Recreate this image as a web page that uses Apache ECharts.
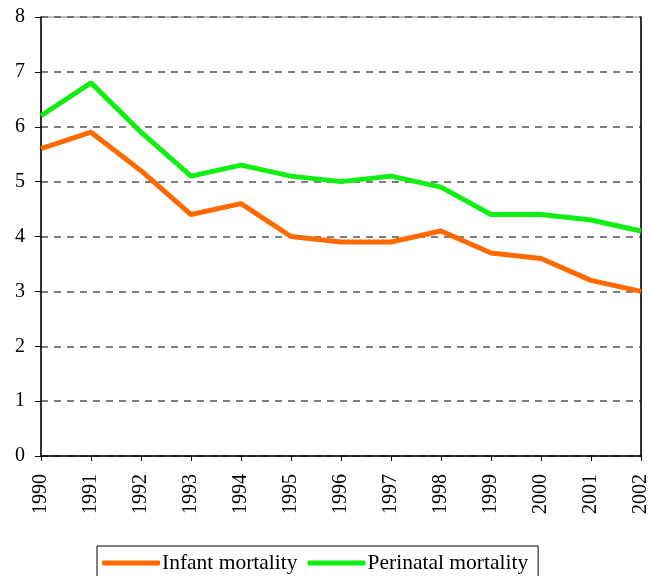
<!DOCTYPE html>
<html>
<head>
<meta charset="utf-8">
<script src="https://cdn.jsdelivr.net/npm/echarts@6/dist/echarts.min.js"></script>
<style>
  html, body { margin: 0; padding: 0; background: #fff; }
  #chart { width: 648px; height: 576px; }
</style>
</head>
<body>
<div id="chart"></div>
<script>
// 年份
var years = ['1990', '1991', '1992', '1993', '1994', '1995', '1996',
             '1997', '1998', '1999', '2000', '2001', '2002'];
// 婴儿死亡率
var infantMortality = [5.6, 5.9, 5.2, 4.4, 4.6, 4.0, 3.9, 3.9, 4.1, 3.7, 3.6, 3.2, 3.0];
// 围产期死亡率
var perinatalMortality = [6.2, 6.8, 5.9, 5.1, 5.3, 5.1, 5.0, 5.1, 4.9, 4.4, 4.4, 4.3, 4.1];

var font = '"Liberation Serif", "Times New Roman", serif';

var myChart = echarts.init(document.getElementById('chart'));
myChart.setOption({
    animation: false,
    textStyle: { fontFamily: font, color: '#000' },
    grid: { //绘图区
        left: 41,
        right: 7,
        top: 17,
        bottom: 120,
        outerBoundsMode: 'none',
        show: true,
        borderColor: '#888',
        borderWidth: 1
    },
    legend: {
        bottom: -8,
        left: 97,
        padding: [6, 10, 10, 5],
        itemGap: 10,
        borderColor: '#000',
        borderWidth: 1,
        itemWidth: 58,
        itemHeight: 5,
        icon: 'roundRect',
        textStyle: { fontFamily: font, fontSize: 21.5, color: '#000', padding: [0, 0, 0, -3] },
        data: ['Infant mortality', 'Perinatal mortality']
    },
    xAxis: {
        type: 'category',
        data: years,
        boundaryGap: false,
        axisLine: { lineStyle: { color: '#000', width: 1.5 } },
        axisTick: { show: true, alignWithLabel: true, length: 5, lineStyle: { color: '#000' } },
        axisLabel: { rotate: 90, fontSize: 20, fontFamily: font, color: '#000', margin: 18 },
        splitLine: { show: false }
    },
    yAxis: [{
        type: 'value',
        min: 0,
        max: 8,
        interval: 1,
        axisLine: { show: true, lineStyle: { color: '#000', width: 1.5 } },
        axisTick: { show: true, length: 6, lineStyle: { color: '#000' } },
        axisLabel: { fontSize: 20, fontFamily: font, color: '#000', margin: 16 },
        splitLine: { lineStyle: { color: '#555', type: [7, 6], width: 1.5 } }
    }, {
        type: 'value',
        position: 'right',
        min: 0,
        max: 8,
        interval: 1,
        axisLine: { show: true, lineStyle: { color: '#000', width: 1.5 } },
        axisTick: { show: false },
        axisLabel: { show: false },
        splitLine: { show: false }
    }],
    series: [{
        name: 'Infant mortality',
        type: 'line',
        data: infantMortality,
        symbol: 'none',
        color: '#ff6a00',
        lineStyle: { width: 5, color: '#ff6a00' }
    }, {
        name: 'Perinatal mortality',
        type: 'line',
        data: perinatalMortality,
        symbol: 'none',
        color: '#11ee11',
        lineStyle: { width: 5, color: '#11ee11' }
    }]
});
</script>
</body>
</html>
